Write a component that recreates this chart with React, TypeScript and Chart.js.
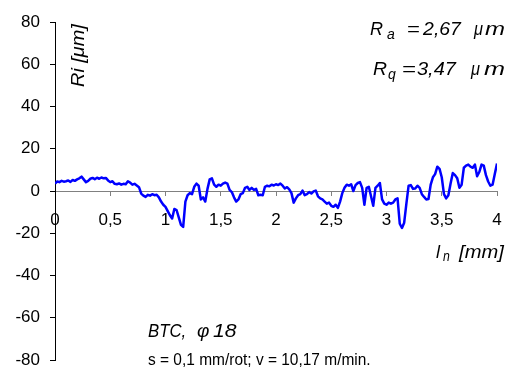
import React, { useEffect, useRef } from 'react';
import { Chart, registerables } from 'chart.js';

Chart.register(...registerables);

// sampling step of the roughness profile along l_n [mm]
const SAMPLE_STEP = 0.02;

// profile Ri [µm], one value every SAMPLE_STEP mm from 0 to 4
const profileValues: number[] = [
  3.5, 4.5, 4.2, 4.8, 4.4, 4.6, 5.0, 4.3, 5.2, 4.8,
  5.5, 6.0, 6.8, 5.5, 4.2, 4.8, 5.8, 6.2, 5.6, 6.3,
  5.8, 6.4, 6.0, 6.2, 5.0, 4.2, 4.6, 3.4, 3.2, 3.6,
  3.0, 3.4, 3.2, 4.6, 4.0, 3.0, 3.4, 2.6, 1.8, -1.2,
  -2.2, -2.8, -1.8, -2.2, -1.5, -2.0, -1.8, -3.0, -5.0, -6.5,
  -7.5, -9.5, -11.5, -13.0, -8.5, -9.0, -12.5, -16.0, -17.0, -5.0,
  -2.0, -1.0, -1.5, 2.0, 3.5, 2.5, -4.0, -3.0, -5.0, 1.0,
  5.5, 6.0, 3.0, 2.0, 3.0, 2.5, 3.5, 4.0, 3.5, 0.5,
  -0.5, -3.0, -5.0, -4.0, -1.5, -1.0, 1.5, 2.0, 0.5, 1.5,
  0.5, 1.0, -2.0, -1.8, -2.0, 2.0, 2.5, 2.2, 3.0, 2.6,
  3.2, 2.8, 3.5, 2.5, 1.2, 1.8, 0.8, -1.0, -5.5, -3.5,
  -2.0, -1.5, 0.2, -2.0, -1.5, -0.5, -1.2, -0.2, 0.2, -2.5,
  -3.5, -4.0, -5.0, -6.0, -5.5, -7.0, -7.5, -6.5, -8.0, -5.0,
  -1.0, 1.5, 3.0, 2.5, 3.2, 0.0, 2.8, 3.8, 4.2, 1.5,
  -6.5, 1.5, 2.0, -2.5, -7.0, 1.5, 2.5, 3.8, -4.0, -6.0,
  -6.5, -5.5, -6.0, -5.5, -4.0, -3.5, -15.5, -17.5, -15.0, -6.0,
  2.5, 2.8, 1.0, 1.2, 2.5, 1.5, -1.5, -2.8, -4.0, -3.8,
  3.0, 6.5, 8.0, 11.5, 10.5, 6.5, -1.5, -3.5, -2.0, 3.5,
  8.5, 7.5, 6.0, 1.5, 3.0, 11.0, 12.0, 12.5, 11.5, 11.0,
  12.5, 7.0, 9.0, 12.5, 12.0, 7.5, 4.5, 2.5, 3.0, 8.0,
  13.0,
];

// axes
const X_MIN = 0;
const X_MAX = 4;
const X_STEP = 0.5;
const Y_MIN = -80;
const Y_MAX = 80;
const Y_STEP = 20;

// texts
const Y_TITLE = 'Ri [μm]';
const RA_TEXT = ['R', 'a', '=', '2,67', 'μ', 'm'];
const RQ_TEXT = ['R', 'q', '=', '3,47', 'μ', 'm'];
const X_TITLE = ['l', 'n', '[mm]'];
const NOTE_1 = ['BTC,', 'φ', '18'];
const NOTE_2 = 's = 0,1 mm/rot; v = 10,17 m/min.';

const FONT = 'Arial, "Liberation Sans", sans-serif';

function drawInk(
  ctx: CanvasRenderingContext2D,
  text: string,
  font: string,
  x: number,
  baseline: number,
  width?: number,
) {
  ctx.font = font;
  const m = ctx.measureText(text);
  const ink = m.actualBoundingBoxRight + m.actualBoundingBoxLeft;
  const sx = width && ink > 0 ? width / ink : 1;
  ctx.save();
  ctx.translate(x, baseline);
  ctx.scale(sx, 1);
  ctx.textAlign = 'left';
  ctx.textBaseline = 'alphabetic';
  ctx.fillText(text, m.actualBoundingBoxLeft, 0);
  ctx.restore();
}

const annotationPlugin = {
  id: 'annotations',
  afterDraw(chart: Chart) {
    const ctx = chart.ctx;
    ctx.save();
    ctx.fillStyle = '#000';
    const it = (s: number) => `italic ${s}px ${FONT}`;
    const nm = (s: number) => `${s}px ${FONT}`;

    // y axis title, rotated
    ctx.save();
    ctx.translate(84, 87);
    ctx.rotate(-Math.PI / 2);
    drawInk(ctx, Y_TITLE, it(18), 0, 0, 64);
    ctx.restore();

    // Ra line
    drawInk(ctx, RA_TEXT[0], it(18), 370, 35, 13);
    drawInk(ctx, RA_TEXT[1], it(14), 387, 39, 8);
    drawInk(ctx, RA_TEXT[2], it(18), 408, 35, 11);
    drawInk(ctx, RA_TEXT[3], it(18), 422, 35, 40);
    drawInk(ctx, RA_TEXT[4], it(18), 473, 35, 10);
    drawInk(ctx, RA_TEXT[5], it(18), 485, 35, 20);

    // Rq line
    drawInk(ctx, RQ_TEXT[0], it(18), 373, 75, 14);
    drawInk(ctx, RQ_TEXT[1], it(14), 388, 79, 8);
    drawInk(ctx, RQ_TEXT[2], it(18), 403, 75, 12);
    drawInk(ctx, RQ_TEXT[3], it(18), 417, 75, 40);
    drawInk(ctx, RQ_TEXT[4], it(18), 470, 75, 10);
    drawInk(ctx, RQ_TEXT[5], it(18), 484, 75, 21);

    // x axis title
    drawInk(ctx, X_TITLE[0], it(18), 436, 258);
    drawInk(ctx, X_TITLE[1], it(14), 443, 261, 7);
    drawInk(ctx, X_TITLE[2], it(18), 458, 258, 47);

    // notes
    drawInk(ctx, NOTE_1[0], it(19), 148, 337, 37);
    drawInk(ctx, NOTE_1[1], it(19), 197, 337, 12);
    drawInk(ctx, NOTE_1[2], it(19), 213, 337, 24);
    drawInk(ctx, NOTE_2, nm(17), 148, 365, 222);
    ctx.restore();
  },
};

export default function App() {
  const canvasRef = useRef<HTMLCanvasElement | null>(null);

  useEffect(() => {
    const canvas = canvasRef.current;
    if (!canvas) return;
    Chart.defaults.font.family = FONT;
    const chart = new Chart(canvas, {
      type: 'line',
      data: {
        datasets: [
          {
            data: profileValues.map((v, i) => ({ x: i * SAMPLE_STEP, y: v })),
            borderColor: '#0000ff',
            borderWidth: 2.5,
            pointRadius: 0,
            tension: 0,
            fill: false,
            borderJoinStyle: 'round',
          },
        ],
      },
      options: {
        responsive: false,
        animation: false,
        devicePixelRatio: 1,
        layout: { padding: { left: 0, top: 22, right: 16, bottom: 12 } },
        plugins: {
          legend: { display: false },
          tooltip: { enabled: false },
          title: { display: false },
        },
        scales: {
          x: {
            type: 'linear',
            min: X_MIN,
            max: X_MAX,
            position: { y: 0 },
            ticks: {
              stepSize: X_STEP,
              autoSkip: false,
              maxRotation: 0,
              padding: 15,
              color: '#000',
              font: { size: 17, family: FONT },
              callback: (v: any) => String(Number(v)).replace('.', ','),
            },
            grid: {
              drawOnChartArea: false,
              drawTicks: true,
              tickLength: 4,
              color: '#808080',
            },
            border: { display: true, color: '#808080', width: 1 },
            afterFit: (scale: any) => {
              scale.paddingLeft = 0;
              scale.paddingRight = 0;
              scale.paddingTop = 0;
              scale.paddingBottom = 0;
            },
          },
          y: {
            type: 'linear',
            min: Y_MIN,
            max: Y_MAX,
            ticks: {
              stepSize: Y_STEP,
              padding: 10,
              color: '#000',
              font: { size: 17, family: FONT },
            },
            grid: {
              drawOnChartArea: false,
              drawTicks: true,
              tickLength: 5,
              color: '#000',
            },
            border: { display: true, color: '#000', width: 1 },
            afterFit: (scale: any) => {
              scale.width = 55;
              scale.paddingLeft = 0;
              scale.paddingRight = 0;
              scale.paddingTop = 0;
              scale.paddingBottom = 0;
            },
          },
        },
      },
      plugins: [annotationPlugin],
    });
    return () => chart.destroy();
  }, []);

  return (
    <div style={{ position: 'fixed', left: 0, top: 0, width: 513, height: 372, background: '#fff' }}>
      <canvas ref={canvasRef} width={513} height={372} style={{ display: 'block' }} />
    </div>
  );
}
